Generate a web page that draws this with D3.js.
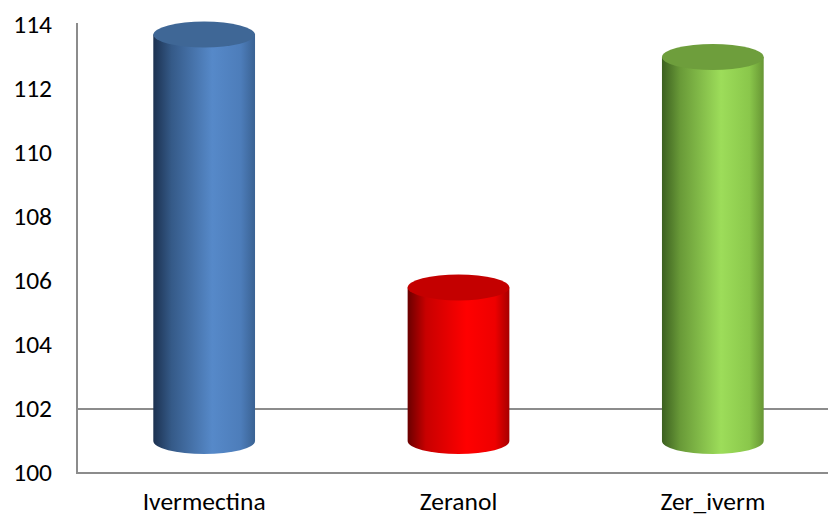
<!DOCTYPE html>
<html>
<head>
<meta charset="utf-8">
<script src="https://cdn.jsdelivr.net/npm/d3@7"></script>
<style>
  html, body { margin: 0; padding: 0; background: #fff; }
  svg { display: block; }
  text { font-family: Carlito, Calibri, Lato, "Noto Sans", sans-serif; fill: #000; }
</style>
</head>
<body>
<svg id="chart" width="828" height="519"></svg>
<script>
// Chart data
const categories = ["Ivermectina", "Zeranol", "Zer_iverm"];
const values = [113.7, 105.8, 113.0];
const tickValues = [100, 102, 104, 106, 108, 110, 112, 114];
const floorValue = 101;          // cylinders stand on the 3D floor, set back from the front axis
const gridValues = [102];

// Cylinder palettes: side gradient stops (left to right) and cap colour
const sideStops = [
  [["0%", "#1c3150"], ["18%", "#355a88"], ["58%", "#5689c9"], ["86%", "#4d7dba"], ["100%", "#3a6293"]],
  [["0%", "#6a0000"], ["18%", "#c80000"], ["58%", "#ff0000"], ["86%", "#ee0000"], ["100%", "#a60000"]],
  [["0%", "#3c6020"], ["18%", "#699a38"], ["58%", "#9ddd5a"], ["86%", "#8ac74b"], ["100%", "#679634"]]
];
const capColors = ["#3f6796", "#c40000", "#6e9e3c"];

const svg = d3.select("#chart");
const width = 828, height = 519;

const y = d3.scaleLinear().domain([100, 114]).range([473, 25]);
const x = d3.scaleBand().domain(categories).range([77, 840])
  .paddingInner(0.6).paddingOuter(0.3);

const defs = svg.append("defs");
sideStops.forEach((stops, i) => {
  const g = defs.append("linearGradient").attr("id", "side" + i)
    .attr("x1", "0%").attr("x2", "100%").attr("y1", "0%").attr("y2", "0%");
  stops.forEach(([o, c]) => g.append("stop").attr("offset", o).attr("stop-color", c));
});

// Axes and the single gridline
const axisColor = "#8c8c8c";
svg.append("g").selectAll("line.grid").data(gridValues).join("line")
  .attr("x1", 77).attr("x2", width)
  .attr("y1", d => y(d)).attr("y2", d => y(d))
  .attr("stroke", axisColor).attr("stroke-width", 2);

svg.append("line").attr("x1", 77).attr("x2", 77).attr("y1", 23).attr("y2", y(100))
  .attr("stroke", axisColor).attr("stroke-width", 2);
svg.append("line").attr("x1", 76).attr("x2", width).attr("y1", y(100)).attr("y2", y(100))
  .attr("stroke", axisColor).attr("stroke-width", 2);

// Y tick labels
svg.append("g").selectAll("text").data(tickValues).join("text")
  .attr("x", 52).attr("y", d => y(d) + 2)
  .attr("text-anchor", "end").attr("dominant-baseline", "middle")
  .style("font-size", "25.5px")
  .text(d => d);

// Category labels
svg.append("g").selectAll("text").data(categories).join("text")
  .attr("x", d => x(d) + x.bandwidth() / 2).attr("y", 510)
  .attr("text-anchor", "middle")
  .style("font-size", "25.5px")
  .text(d => d);

// Cylinders
const ry = 13;
const bars = svg.append("g").selectAll("g").data(categories).join("g");
bars.each(function (c, i) {
  const g = d3.select(this);
  const x0 = x(c), w = x.bandwidth(), cx = x0 + w / 2, rx = w / 2;
  const yTop = y(values[i]), yBot = y(floorValue);
  // body: side rectangle closed by the lower half ellipse
  g.append("path")
    .attr("d", `M${x0},${yTop} L${x0},${yBot} A${rx},${ry} 0 0 0 ${x0 + w},${yBot} L${x0 + w},${yTop} Z`)
    .attr("fill", `url(#side${i})`);
  // top cap
  g.append("ellipse")
    .attr("cx", cx).attr("cy", yTop).attr("rx", rx).attr("ry", ry)
    .attr("fill", capColors[i]);
});
</script>
</body>
</html>
